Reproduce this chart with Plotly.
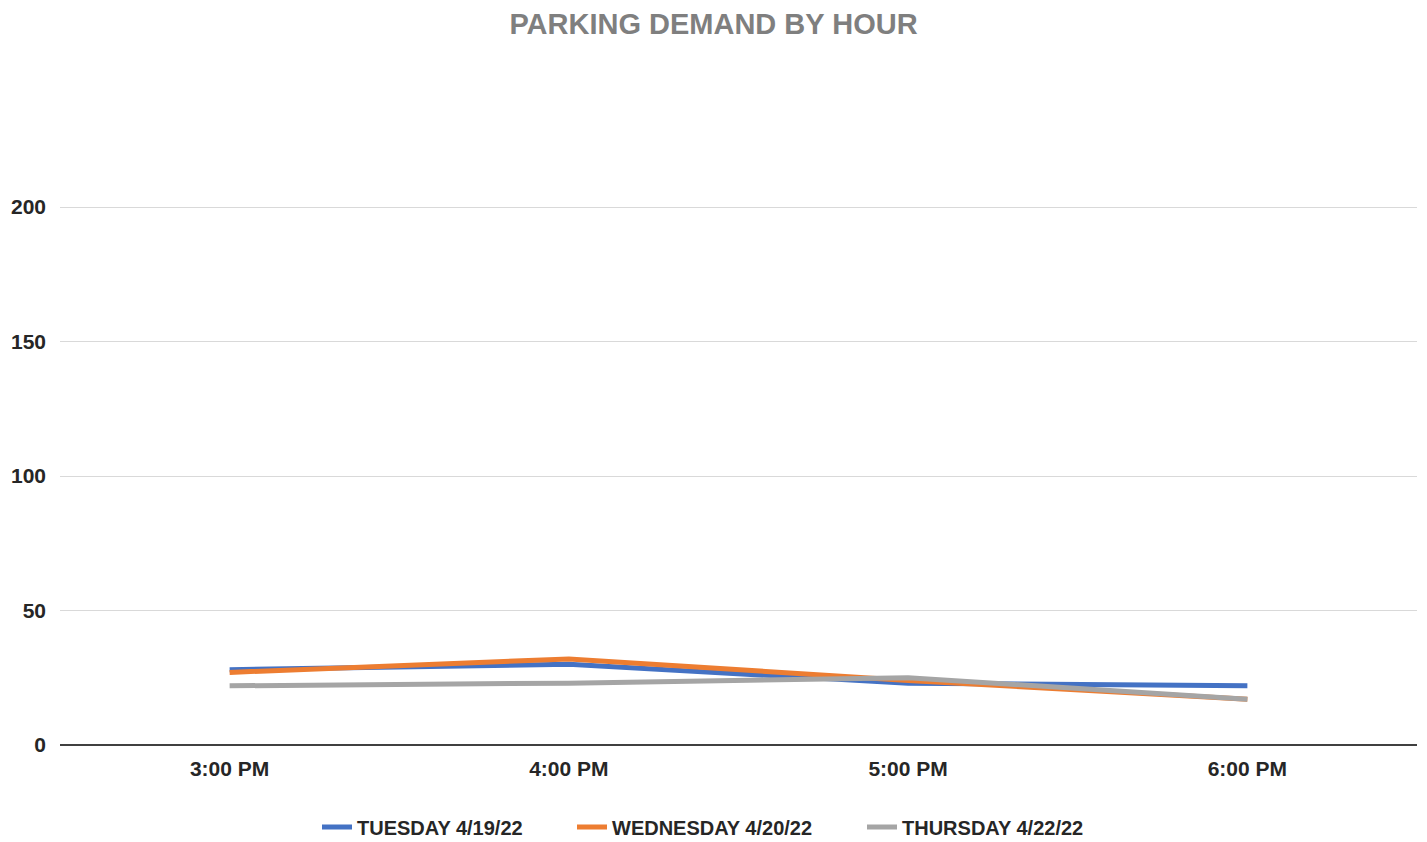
import plotly.graph_objects as go

hours = ["3:00 PM", "4:00 PM", "5:00 PM", "6:00 PM"]
tuesday = [28, 30, 23, 22]
wednesday = [27, 32, 24, 17]
thursday = [22, 23, 25, 17]

series_names = ["TUESDAY 4/19/22", "WEDNESDAY 4/20/22", "THURSDAY 4/22/22"]
colors = ["#4472C4", "#ED7D31", "#A5A5A5"]
legend_ids = ["legend", "legend2", "legend3"]

W, H = 1427, 842
ML, MR, MT, MB = 60, 10, 206, 97

fig = go.Figure()
for name, vals, c, lg in zip(series_names, [tuesday, wednesday, thursday], colors, legend_ids):
    fig.add_trace(go.Scatter(x=hours, y=vals, mode="lines", name=name,
                             line=dict(color=c, width=5), legend=lg))

leg_font = dict(family="Liberation Sans", size=20, color="#262626", weight="bold")
symbol_px = [323, 578, 868]

def leg(px):
    return dict(orientation="h", xref="container", yref="container",
                x=(px - 6) / W, xanchor="left",
                y=1 - 827 / H, yanchor="middle", font=leg_font, itemwidth=30,
                bgcolor="rgba(0,0,0,0)")

fig.update_layout(
    width=W, height=H,
    paper_bgcolor="white", plot_bgcolor="white",
    margin=dict(l=ML, r=MR, t=MT, b=MB, autoexpand=False),
    title=dict(text="PARKING DEMAND BY HOUR", x=0.5, xanchor="center",
               y=1 - 24 / H, yanchor="middle",
               font=dict(family="Liberation Sans", size=29, color="#7F7F7F", weight="bold")),
    xaxis=dict(type="category", range=[-0.5, 3.5], showgrid=False,
               showline=False, ticks="", ticklabelstandoff=9, automargin=False,
               tickfont=dict(family="Liberation Sans", size=21, color="#262626", weight="bold")),
    yaxis=dict(range=[0, 200.4], tickvals=[0, 50, 100, 150, 200],
               showgrid=True, gridcolor="#D9D9D9", gridwidth=1.3,
               zeroline=True, zerolinecolor="#404040", zerolinewidth=1.5,
               showline=False, ticks="", ticklabelstandoff=13, automargin=False,
               tickfont=dict(family="Liberation Sans", size=21, color="#262626", weight="bold")),
    legend=leg(symbol_px[0]),
    legend2=leg(symbol_px[1]),
    legend3=leg(symbol_px[2]),
    showlegend=True,
)

fig.write_html("out.html",
               config={"displayModeBar": False},
               post_script="document.body.style.margin='0';document.body.style.padding='0';")
